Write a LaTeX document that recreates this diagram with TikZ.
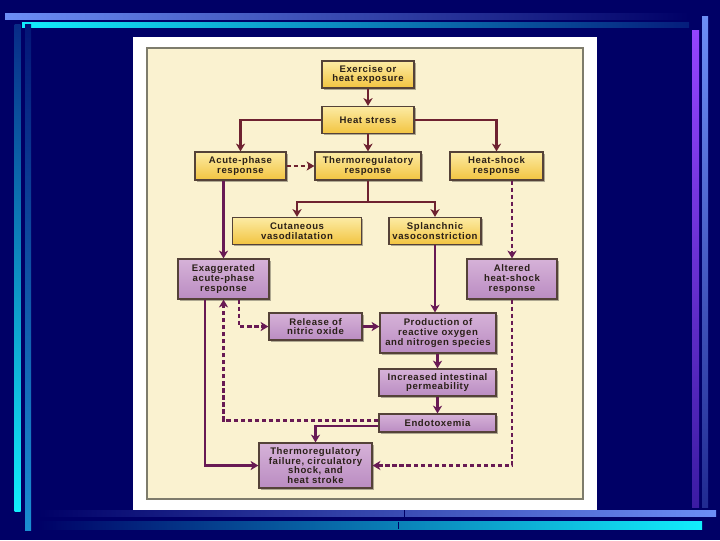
\documentclass[tikz,border=0pt]{standalone}
\usepackage{fontspec}
\newfontfamily\boxfont[LetterSpace=6]{Liberation Sans}
\usetikzlibrary{arrows.meta,calc,shadows}
\definecolor{Navy}{HTML}{000066}
\definecolor{BarBlue}{HTML}{6C8EF6}
\definecolor{BarCyan}{HTML}{12EEFC}
\definecolor{BarTeal}{HTML}{1A8ED2}
\definecolor{BarViolet}{HTML}{9444FF}
\definecolor{Cream}{HTML}{FAF2D0}
\definecolor{CreamEdge}{HTML}{7E7C6C}
\definecolor{YelTop}{HTML}{FCEBA4}
\definecolor{YelBot}{HTML}{F2C440}
\definecolor{PurTop}{HTML}{D6B2D8}
\definecolor{PurBot}{HTML}{BA8CC2}
\definecolor{BoxEdge}{HTML}{544238}
\definecolor{Ink}{HTML}{2A2018}
\definecolor{Wine}{HTML}{6E2230}
\definecolor{Plum}{HTML}{681A54}

\begin{document}
\begin{tikzpicture}[x=0.025cm,y=-0.025cm,>={Stealth[length=5.5pt,width=6.5pt,inset=1.6pt]},
  box/.style={draw=BoxEdge,line width=0.9pt,inner sep=0pt,align=center,text=Ink,
    font=\boxfont\bfseries\fontsize{6.8}{7.0}\selectfont,
    drop shadow={shadow xshift=1.3pt,shadow yshift=-1.3pt,fill=black,opacity=0.3}},
  ybox/.style={box,top color=YelTop,bottom color=YelBot},
  pbox/.style={box,top color=PurTop,bottom color=PurBot},
  arr/.style={->,line width=1.8pt,Wine},
  parr/.style={->,line width=1.8pt,Plum},
  dashline/.style={line width=1.6pt,dash pattern=on 3pt off 2pt}]
% slide background and bars
\fill[Navy] (0,0) rectangle (720,540);
\useasboundingbox (0,0) rectangle (720,540);
\shade[left color=BarBlue,right color=Navy] (5,13) rectangle (689,19);
\shade[left color=BarCyan,right color=Navy!80!BarTeal] (22,22) rectangle (689,27);
\shade[top color=Navy!70!BarTeal,bottom color=BarCyan] (14.5,24) rectangle (20.5,511);
\shade[top color=Navy!85!BarTeal,bottom color=BarTeal] (25,24) rectangle (31,530);
\shade[top color=BarViolet,bottom color=Navy!60!BarViolet] (692,30) rectangle (699,507);
\shade[top color=BarBlue,bottom color=Navy!70!BarBlue] (702,16.5) rectangle (708,507);
\shade[left color=Navy,right color=BarBlue] (37,510) rectangle (716,516.5);
\shade[left color=Navy,right color=BarCyan] (37,521.5) rectangle (702,529);
\draw[Navy,line width=0.4pt] (404,510) -- (404,516.5);
\draw[Navy,line width=0.4pt] (398,521.5) -- (398,529);
% figure panel
\fill[white] (133,37) rectangle (597,510);
\draw[CreamEdge,fill=Cream,line width=0.9pt] (147,48) rectangle (583,499);
% boxes
\node[ybox,minimum width=2.3cm,minimum height=0.675cm] (exer) at (368,74.5) {Exercise or\\heat exposure};
\node[ybox,minimum width=2.3cm,minimum height=0.675cm] (stress) at (368,120) {Heat stress};
\node[ybox,minimum width=2.275cm,minimum height=0.7cm] (acute) at (240.5,166) {Acute-phase\\response};
\node[ybox,minimum width=2.65cm,minimum height=0.7cm] (thermo) at (368,166) {Thermoregulatory\\response};
\node[ybox,minimum width=2.325cm,minimum height=0.7cm] (shock) at (496.5,166) {Heat-shock\\response};
\node[ybox,minimum width=3.225cm,minimum height=0.675cm] (cutan) at (297,231) {Cutaneous\\vasodilatation};
\node[ybox,minimum width=2.3cm,minimum height=0.675cm] (splanch) at (435,231) {Splanchnic\\vasoconstriction};
\node[pbox,minimum width=2.275cm,minimum height=1.0cm] (exag) at (223.5,279) {Exaggerated\\acute-phase\\response};
\node[pbox,minimum width=2.25cm,minimum height=1.0cm] (altered) at (512,279) {Altered\\heat-shock\\response};
\node[pbox,minimum width=2.325cm,minimum height=0.675cm] (nitric) at (315.5,326.5) {Release of\\nitric oxide};
\node[pbox,minimum width=2.9cm,minimum height=1.0cm] (ros) at (438,333) {Production of\\reactive oxygen\\and nitrogen species};
\node[pbox,minimum width=2.925cm,minimum height=0.675cm] (perm) at (437.5,382.5) {Increased intestinal\\permeability};
\node[pbox,minimum width=2.925cm,minimum height=0.45cm] (endo) at (437.5,423) {Endotoxemia};
\node[pbox,minimum width=2.825cm,minimum height=1.125cm] (fail) at (315.5,465.5) {Thermoregulatory\\failure, circulatory\\shock, and\\heat stroke};
% connectors
\coordinate (split) at (368,202);
\draw[arr] (exer) -- (stress);
\draw[arr] (stress.west) -| (acute.north);
\draw[arr] (stress) -- (thermo);
\draw[arr] (stress.east) -| (shock.north);
\draw[arr,dashline] (acute) -- (thermo);
\draw[Wine,line width=1.8pt] (thermo) -- (split);
\draw[arr] (split) -| (cutan.north);
\draw[arr] (split) -| (splanch.north);
\draw[parr] (acute.south -| exag.north) -- (exag.north);
\draw[parr,dashline] (shock.south -| altered.north) -- (altered.north);
\draw[parr] (splanch.south) -- (splanch.south |- ros.north);
\draw[parr,dashline] ($(exag.south)+(15.5,0)$) |- (nitric.west);
\draw[parr] (nitric) -- (nitric -| ros.west);
\draw[parr] (ros.south -| perm.north) -- (perm.north);
\draw[parr] (perm) -- (endo);
\draw[parr,dashline] ($(endo.west)+(0,-2.5)$) -| (exag.south);
\draw[parr] ($(endo.west)+(0,3)$) -| (fail.north);
\draw[parr] ($(exag.south)+(-18.5,0)$) |- (fail.west);
\draw[parr,dashline] (altered.south) |- (fail.east);
\end{tikzpicture}
\end{document}
